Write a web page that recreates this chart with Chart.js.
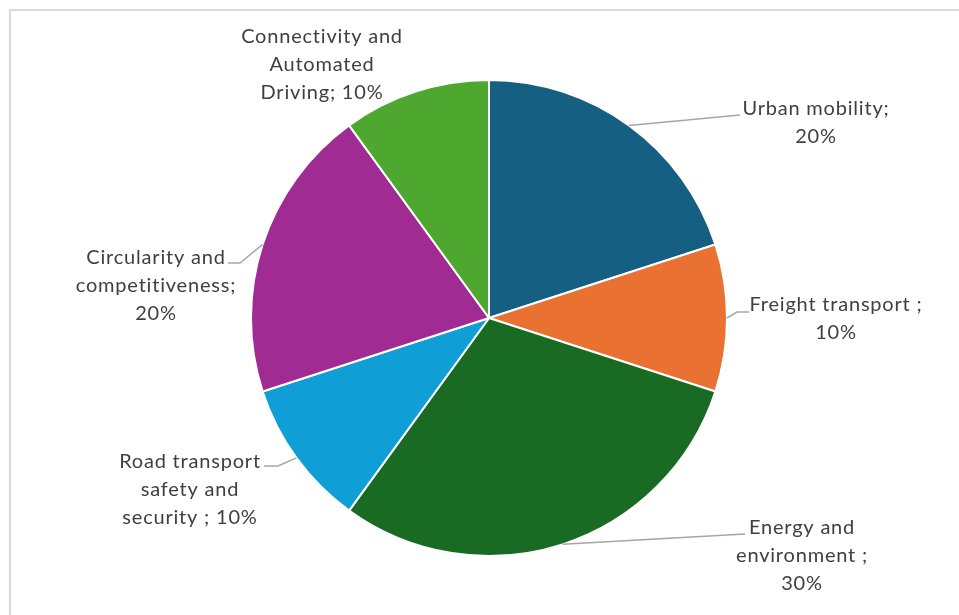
<!DOCTYPE html>
<html>
<head>
<meta charset="utf-8">
<script src="https://cdn.jsdelivr.net/npm/chart.js@4/dist/chart.umd.min.js"></script>
<style>
  html, body { margin: 0; padding: 0; background: #fff; }
  #wrap { width: 959px; height: 615px; position: relative; }
</style>
</head>
<body>
<div id="wrap"><canvas id="topicsChart"></canvas></div>
<script>
const categories = [
  'Urban mobility',
  'Freight transport',
  'Energy and environment',
  'Road transport safety and security',
  'Circularity and competitiveness',
  'Connectivity and Automated Driving'
];
const shares = [20, 10, 30, 10, 20, 10];
const sliceColors = ['#156082', '#e97132', '#196b24', '#0f9ed5', '#a02b93', '#4ea72e'];

// label text, {v} is replaced by the share
const labelLines = [
  ['Urban mobility;', '{v}'],
  ['Freight transport ;', '{v}'],
  ['Energy and', 'environment ;', '{v}'],
  ['Road transport', 'safety and', 'security ; {v}'],
  ['Circularity and', 'competitiveness;', '{v}'],
  ['Connectivity and', 'Automated', 'Driving; {v}']
];

// label placement, offsets from pie centre (text = first line centre, leader = bend points)
const labelLayout = [
  { text: [327, -209], leader: [[251, -203]] },
  { text: [347, -13], leader: [[248, -6], [260, -6]] },
  { text: [313, 210], leader: [[256, 216]] },
  { text: [-299, 144], leader: [[-211, 148], [-225, 148]] },
  { text: [-333, -60], leader: [[-249, -55], [-261, -55]] },
  { text: [-167, -281], leader: [] }
];

const frame = {
  id: 'frame',
  beforeDraw(chart) {
    const ctx = chart.ctx;
    ctx.save();
    ctx.strokeStyle = '#d9d9d9';
    ctx.lineWidth = 2;
    ctx.beginPath();
    ctx.moveTo(10, chart.height + 5);
    ctx.lineTo(10, 10);
    ctx.lineTo(chart.width + 5, 10);
    ctx.stroke();
    ctx.restore();
  }
};

const sliceLabels = {
  id: 'sliceLabels',
  afterDatasetsDraw(chart) {
    const ctx = chart.ctx;
    const meta = chart.getDatasetMeta(0);
    ctx.save();
    meta.data.forEach((arc, i) => {
      const p = arc.getProps(['x', 'y', 'startAngle', 'endAngle', 'outerRadius'], true);
      const mid = (p.startAngle + p.endAngle) / 2;
      const lay = labelLayout[i];
      if (lay.leader.length) {
        ctx.strokeStyle = '#a6a6a6';
        ctx.lineWidth = 1.5;
        ctx.beginPath();
        ctx.moveTo(p.x + Math.cos(mid) * p.outerRadius, p.y + Math.sin(mid) * p.outerRadius);
        lay.leader.forEach(pt => ctx.lineTo(p.x + pt[0], p.y + pt[1]));
        ctx.stroke();
      }
      const value = chart.data.datasets[0].data[i] + '%';
      ctx.fillStyle = '#404040';
      ctx.font = '20px Lato';
      ctx.letterSpacing = '0.8px';
      ctx.textAlign = 'center';
      ctx.textBaseline = 'middle';
      labelLines[i].forEach((line, k) => {
        ctx.fillText(line.replace('{v}', value), p.x + lay.text[0], p.y + lay.text[1] + k * 28);
      });
    });
    ctx.restore();
  }
};

new Chart(document.getElementById('topicsChart'), {
  type: 'pie',
  data: {
    labels: categories,
    datasets: [{
      data: shares,
      backgroundColor: sliceColors,
      borderColor: '#ffffff',
      borderWidth: 2
    }]
  },
  options: {
    responsive: true,
    maintainAspectRatio: false,
    animation: false,
    radius: 238,
    layout: { padding: { left: 19, top: 21, right: 0, bottom: 0 } },
    plugins: {
      legend: { display: false },
      tooltip: { enabled: false }
    }
  },
  plugins: [frame, sliceLabels]
});
</script>
</body>
</html>
